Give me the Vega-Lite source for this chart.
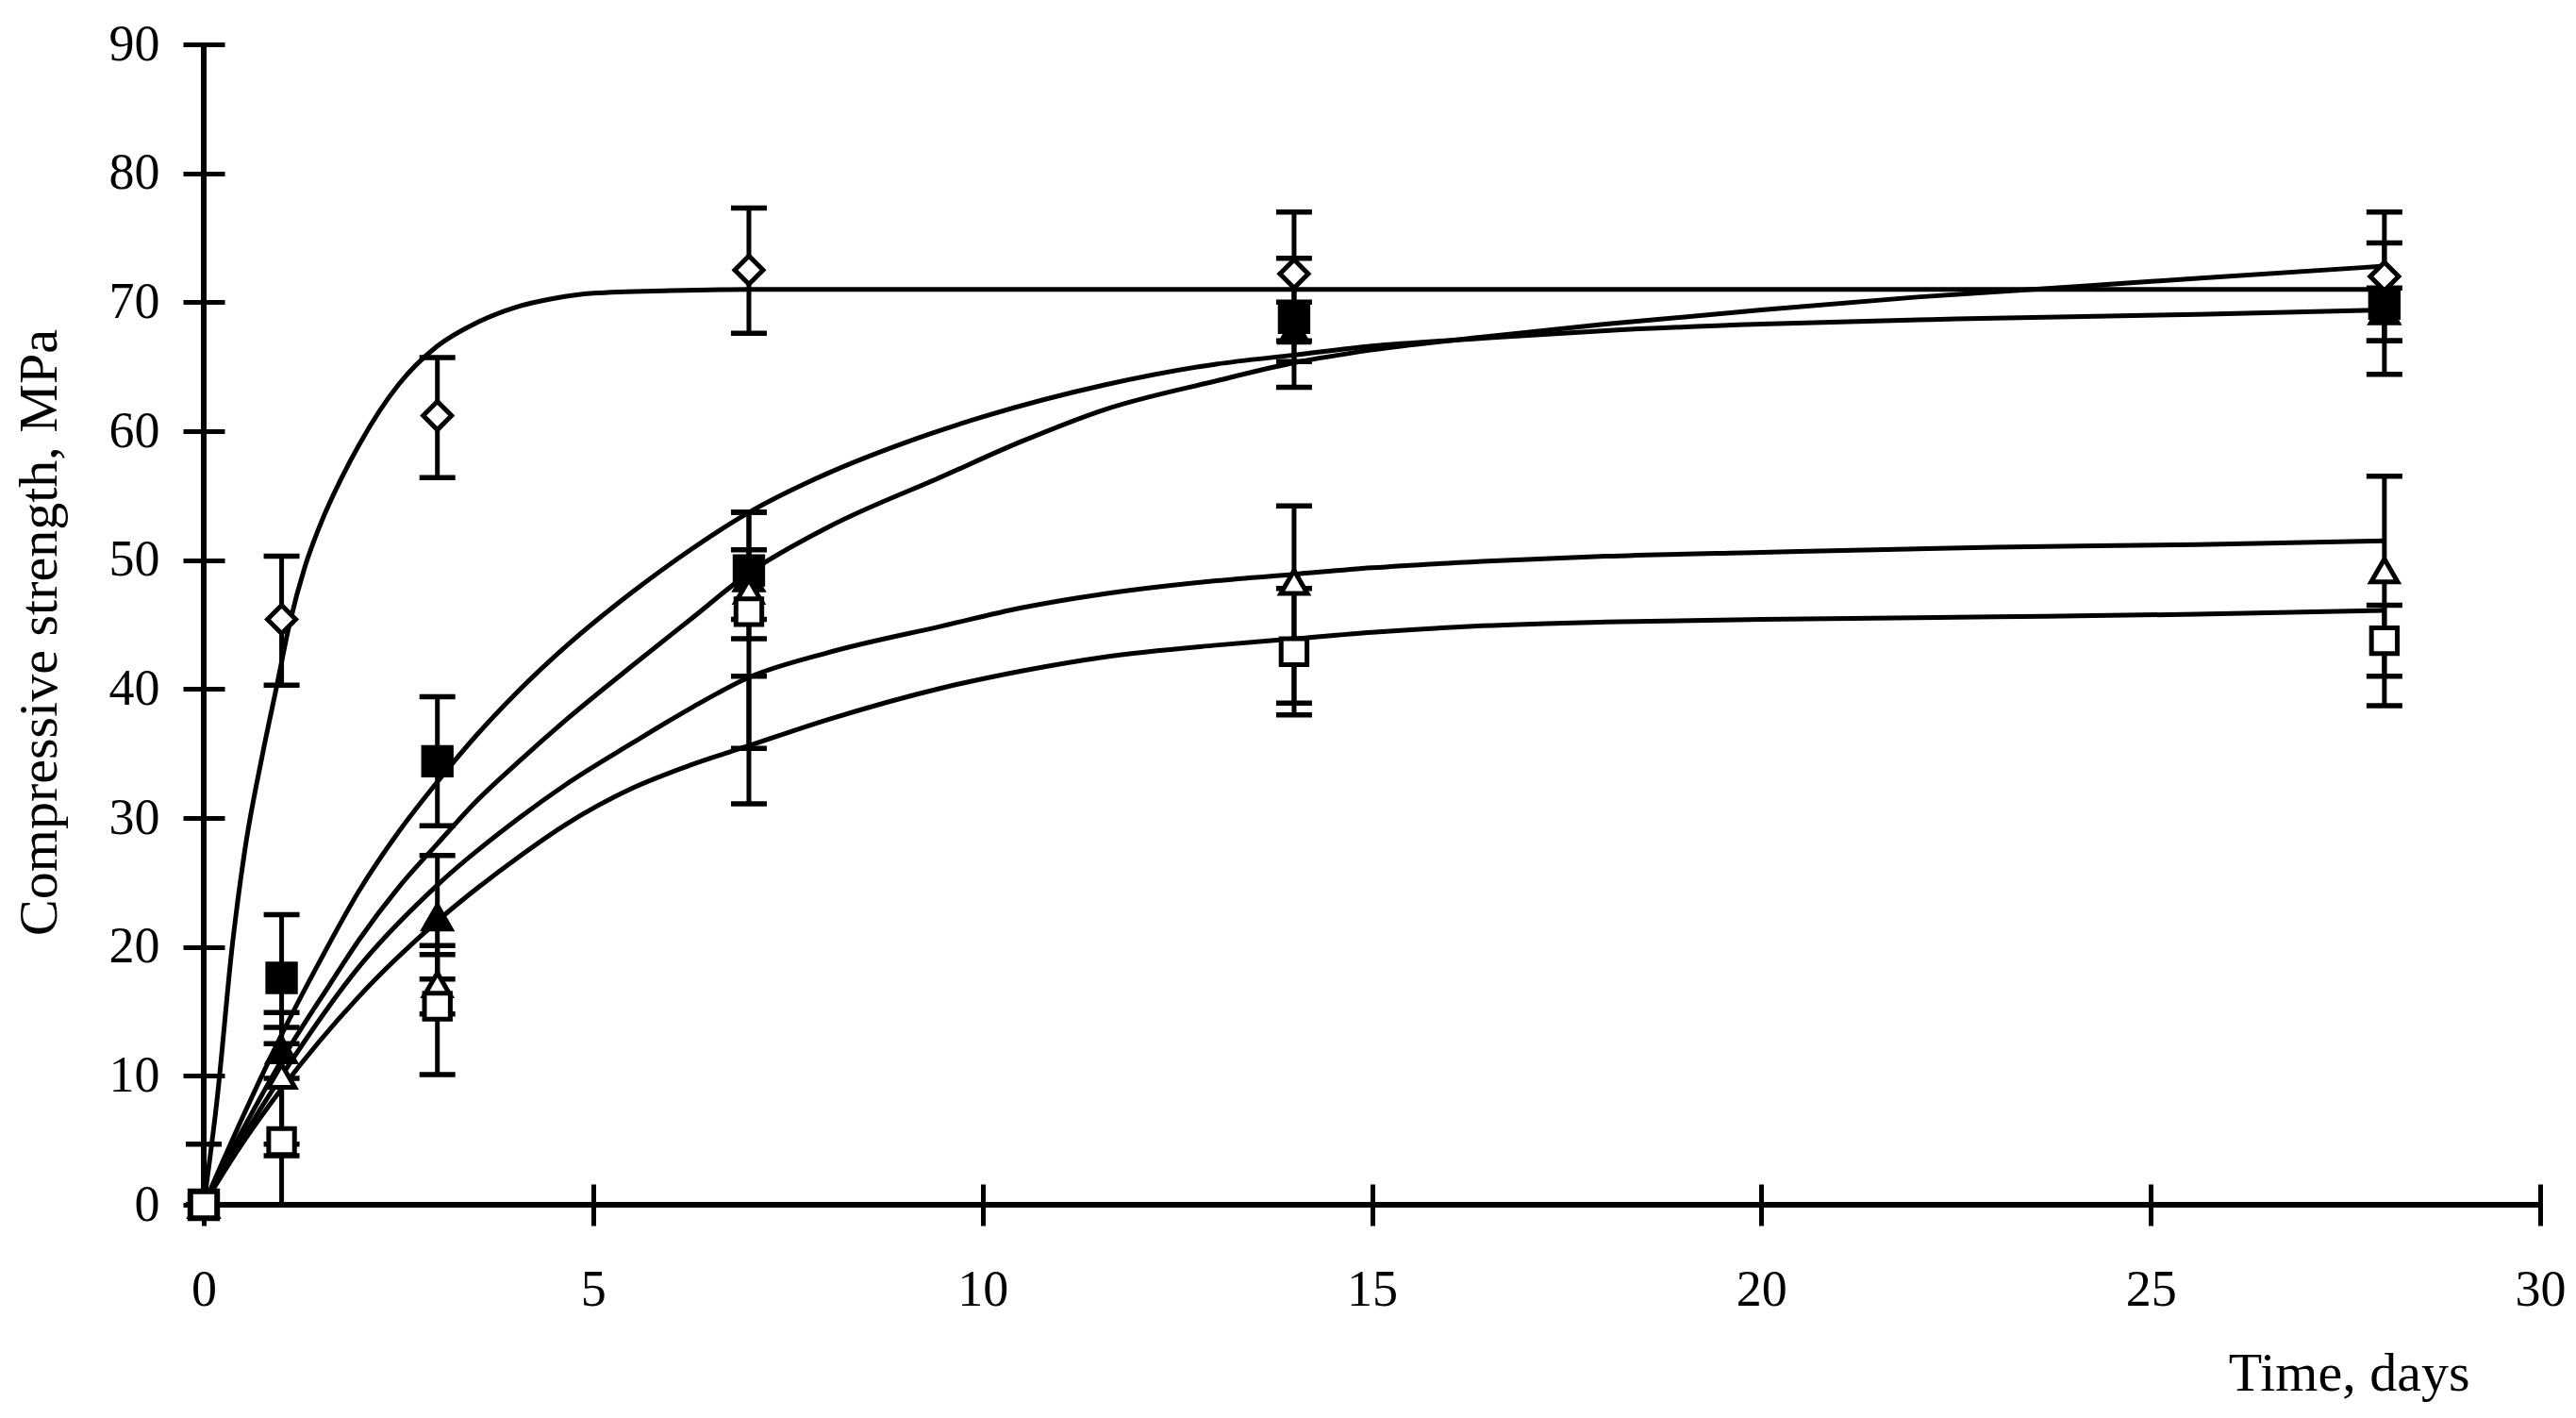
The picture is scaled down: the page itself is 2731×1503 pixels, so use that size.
{
  "$schema": "https://vega.github.io/schema/vega-lite/v6.json",
  "width": 2477,
  "height": 1230,
  "autosize": {"type": "none"},
  "padding": {"left": 216, "top": 47, "right": 38, "bottom": 226},
  "background": "white",
  "datasets": {
    "axisline": [{"origin": 0}],
    "points": [
      {"series": "S1", "t": 0, "v": 0, "low": 0, "high": 0},
      {"series": "S1", "t": 1, "v": 45.4, "low": 40.3, "high": 50.3},
      {"series": "S1", "t": 3, "v": 61.2, "low": 56.4, "high": 65.7},
      {"series": "S1", "t": 7, "v": 72.5, "low": 67.6, "high": 77.3},
      {"series": "S1", "t": 14, "v": 72.2, "low": 67.0, "high": 77.0},
      {"series": "S1", "t": 28, "v": 72.0, "low": 67.0, "high": 77.0},
      {"series": "S3", "t": 0, "v": 0, "low": 0, "high": 0},
      {"series": "S3", "t": 1, "v": 12.0, "low": 3.8, "high": 14.9},
      {"series": "S3", "t": 3, "v": 22.3, "low": 17.5, "high": 27.1},
      {"series": "S3", "t": 7, "v": 48.6, "low": 43.9, "high": 50.8},
      {"series": "S3", "t": 14, "v": 67.8, "low": 65.4, "high": 70.0},
      {"series": "S3", "t": 28, "v": 69.3, "low": 67.0, "high": 71.1},
      {"series": "S2", "t": 0, "v": 0, "low": 0, "high": 0},
      {"series": "S2", "t": 1, "v": 17.6, "low": 12.5, "high": 22.5},
      {"series": "S2", "t": 3, "v": 34.4, "low": 29.4, "high": 39.4},
      {"series": "S2", "t": 7, "v": 49.2, "low": 45.4, "high": 53.7},
      {"series": "S2", "t": 14, "v": 68.8, "low": 63.4, "high": 73.4},
      {"series": "S2", "t": 28, "v": 69.9, "low": 64.4, "high": 74.6},
      {"series": "S4", "t": 0, "v": 0, "low": 0, "high": 0},
      {"series": "S4", "t": 1, "v": 10.0, "low": 4.7, "high": 13.75},
      {"series": "S4", "t": 3, "v": 17.1, "low": 14.8, "high": 19.4},
      {"series": "S4", "t": 7, "v": 47.6, "low": 35.4, "high": 53.7},
      {"series": "S4", "t": 14, "v": 48.3, "low": 38.9, "high": 54.2},
      {"series": "S4", "t": 28, "v": 49.2, "low": 41.0, "high": 56.5},
      {"series": "S5", "t": 0, "v": 0, "low": 0, "high": 4.7},
      {"series": "S5", "t": 1, "v": 4.9, "low": 0, "high": 9.8},
      {"series": "S5", "t": 3, "v": 15.4, "low": 10.1, "high": 20.1},
      {"series": "S5", "t": 7, "v": 46.0, "low": 31.1, "high": 41.0},
      {"series": "S5", "t": 14, "v": 42.9, "low": 38.0, "high": 47.8},
      {"series": "S5", "t": 28, "v": 43.75, "low": 38.7, "high": 46.5}
    ],
    "curves": [
      {"series": "S1", "t": 0, "v": 0}, {"series": "S1", "t": 0.17, "v": 8.1}, {"series": "S1", "t": 0.37, "v": 20.3},
      {"series": "S1", "t": 0.53, "v": 27.6}, {"series": "S1", "t": 0.75, "v": 34.8}, {"series": "S1", "t": 0.94, "v": 40.3},
      {"series": "S1", "t": 1.1, "v": 45.0}, {"series": "S1", "t": 1.3, "v": 49.5}, {"series": "S1", "t": 1.5, "v": 52.8},
      {"series": "S1", "t": 1.78, "v": 56.5}, {"series": "S1", "t": 2, "v": 59.0}, {"series": "S1", "t": 2.5, "v": 63.6},
      {"series": "S1", "t": 3, "v": 66.6}, {"series": "S1", "t": 3.5, "v": 68.4}, {"series": "S1", "t": 4, "v": 69.6},
      {"series": "S1", "t": 4.5, "v": 70.3}, {"series": "S1", "t": 5, "v": 70.7}, {"series": "S1", "t": 6, "v": 70.9},
      {"series": "S1", "t": 7, "v": 71.0}, {"series": "S1", "t": 10, "v": 71.0}, {"series": "S1", "t": 14, "v": 71.0},
      {"series": "S1", "t": 20, "v": 71.0}, {"series": "S1", "t": 28, "v": 71.0},

      {"series": "S2", "t": 0, "v": 0}, {"series": "S2", "t": 0.5, "v": 6.8}, {"series": "S2", "t": 1, "v": 13.2},
      {"series": "S2", "t": 1.5, "v": 19.0}, {"series": "S2", "t": 2, "v": 24.4}, {"series": "S2", "t": 2.5, "v": 28.9},
      {"series": "S2", "t": 3, "v": 32.8}, {"series": "S2", "t": 3.5, "v": 36.4}, {"series": "S2", "t": 4, "v": 39.6},
      {"series": "S2", "t": 4.65, "v": 43.3}, {"series": "S2", "t": 5.5, "v": 47.5}, {"series": "S2", "t": 6.25, "v": 50.8},
      {"series": "S2", "t": 7, "v": 53.7}, {"series": "S2", "t": 8, "v": 56.7}, {"series": "S2", "t": 9, "v": 59.1},
      {"series": "S2", "t": 10, "v": 61.1}, {"series": "S2", "t": 11.58, "v": 63.6}, {"series": "S2", "t": 13, "v": 65.2},
      {"series": "S2", "t": 14, "v": 65.9}, {"series": "S2", "t": 15, "v": 66.6}, {"series": "S2", "t": 16.42, "v": 67.2},
      {"series": "S2", "t": 18, "v": 67.8}, {"series": "S2", "t": 20, "v": 68.3}, {"series": "S2", "t": 22.5, "v": 68.7},
      {"series": "S2", "t": 25.6, "v": 69.05}, {"series": "S2", "t": 28, "v": 69.4},

      {"series": "S3", "t": 0, "v": 0}, {"series": "S3", "t": 0.5, "v": 5.8}, {"series": "S3", "t": 1, "v": 11.2},
      {"series": "S3", "t": 1.62, "v": 17.1}, {"series": "S3", "t": 2, "v": 20.6}, {"series": "S3", "t": 2.5, "v": 24.6},
      {"series": "S3", "t": 3, "v": 28.0}, {"series": "S3", "t": 3.5, "v": 31.3}, {"series": "S3", "t": 4.05, "v": 34.4},
      {"series": "S3", "t": 4.65, "v": 37.6}, {"series": "S3", "t": 5.5, "v": 41.8}, {"series": "S3", "t": 6.25, "v": 45.4},
      {"series": "S3", "t": 7, "v": 49.0}, {"series": "S3", "t": 8, "v": 52.5}, {"series": "S3", "t": 9.49, "v": 56.5},
      {"series": "S3", "t": 10.5, "v": 59.2}, {"series": "S3", "t": 11.58, "v": 61.7}, {"series": "S3", "t": 13, "v": 63.9},
      {"series": "S3", "t": 14, "v": 65.3}, {"series": "S3", "t": 15, "v": 66.3}, {"series": "S3", "t": 16.42, "v": 67.3},
      {"series": "S3", "t": 18, "v": 68.3}, {"series": "S3", "t": 20, "v": 69.4}, {"series": "S3", "t": 22, "v": 70.4},
      {"series": "S3", "t": 24, "v": 71.2}, {"series": "S3", "t": 25.6, "v": 71.85}, {"series": "S3", "t": 28, "v": 72.8},

      {"series": "S4", "t": 0, "v": 0}, {"series": "S4", "t": 0.5, "v": 5.2}, {"series": "S4", "t": 1, "v": 10.0},
      {"series": "S4", "t": 2, "v": 18.5}, {"series": "S4", "t": 3, "v": 24.8}, {"series": "S4", "t": 4.05, "v": 30.0},
      {"series": "S4", "t": 4.65, "v": 32.6}, {"series": "S4", "t": 5.5, "v": 35.8}, {"series": "S4", "t": 6.25, "v": 38.5},
      {"series": "S4", "t": 7, "v": 40.9}, {"series": "S4", "t": 8, "v": 42.8}, {"series": "S4", "t": 9.49, "v": 44.9},
      {"series": "S4", "t": 10.5, "v": 46.3}, {"series": "S4", "t": 11.58, "v": 47.4}, {"series": "S4", "t": 13, "v": 48.4},
      {"series": "S4", "t": 14, "v": 48.9}, {"series": "S4", "t": 15, "v": 49.4}, {"series": "S4", "t": 16.42, "v": 49.9},
      {"series": "S4", "t": 18, "v": 50.3}, {"series": "S4", "t": 20, "v": 50.6}, {"series": "S4", "t": 23, "v": 51.0},
      {"series": "S4", "t": 25.6, "v": 51.2}, {"series": "S4", "t": 28, "v": 51.5},

      {"series": "S5", "t": 0, "v": 0}, {"series": "S5", "t": 0.5, "v": 4.8}, {"series": "S5", "t": 1, "v": 9.0},
      {"series": "S5", "t": 2, "v": 16.2}, {"series": "S5", "t": 3, "v": 22.0}, {"series": "S5", "t": 4.05, "v": 27.0},
      {"series": "S5", "t": 4.65, "v": 29.5}, {"series": "S5", "t": 5.5, "v": 32.3}, {"series": "S5", "t": 6.25, "v": 34.1},
      {"series": "S5", "t": 7, "v": 35.6}, {"series": "S5", "t": 8, "v": 37.6}, {"series": "S5", "t": 9.49, "v": 40.1},
      {"series": "S5", "t": 10.5, "v": 41.4}, {"series": "S5", "t": 11.58, "v": 42.5}, {"series": "S5", "t": 13, "v": 43.4},
      {"series": "S5", "t": 14, "v": 43.9}, {"series": "S5", "t": 15, "v": 44.4}, {"series": "S5", "t": 16.42, "v": 44.9},
      {"series": "S5", "t": 18, "v": 45.2}, {"series": "S5", "t": 20, "v": 45.4}, {"series": "S5", "t": 23, "v": 45.6},
      {"series": "S5", "t": 25.6, "v": 45.8}, {"series": "S5", "t": 28, "v": 46.1}
    ]
  },
  "layer": [
    {
      "data": {"name": "axisline"},
      "mark": {"type": "rule", "color": "black", "strokeWidth": 6},
      "encoding": {
        "x": {"field": "origin", "type": "quantitative", "scale": {"domain": [0, 30], "nice": false}, "title": "Time, days"}
      }
    },
    {
      "data": {"name": "axisline"},
      "mark": {"type": "rule", "color": "black", "strokeWidth": 6},
      "encoding": {
        "y": {"field": "origin", "type": "quantitative", "scale": {"domain": [0, 90], "nice": false}, "title": "Compressive strength, MPa"}
      }
    },
    {
      "data": {"name": "points"},
      "mark": {"type": "rule", "color": "black", "strokeWidth": 5},
      "encoding": {
        "x": {"field": "t", "type": "quantitative", "scale": {"domain": [0, 30], "nice": false}, "title": "Time, days"},
        "y": {"field": "low", "type": "quantitative", "scale": {"domain": [0, 90], "nice": false}, "title": "Compressive strength, MPa"},
        "y2": {"field": "high"}
      }
    },
    {
      "data": {"name": "points"},
      "mark": {"type": "tick", "orient": "horizontal", "color": "black", "size": 38, "thickness": 5.5, "opacity": 1},
      "encoding": {
        "x": {"field": "t", "type": "quantitative", "scale": {"domain": [0, 30], "nice": false}, "title": "Time, days"},
        "y": {"field": "low", "type": "quantitative", "scale": {"domain": [0, 90], "nice": false}, "title": "Compressive strength, MPa"}
      }
    },
    {
      "data": {"name": "points"},
      "mark": {"type": "tick", "orient": "horizontal", "color": "black", "size": 38, "thickness": 5.5, "opacity": 1},
      "encoding": {
        "x": {"field": "t", "type": "quantitative", "scale": {"domain": [0, 30], "nice": false}, "title": "Time, days"},
        "y": {"field": "high", "type": "quantitative", "scale": {"domain": [0, 90], "nice": false}, "title": "Compressive strength, MPa"}
      }
    },
    {
      "data": {"name": "curves"},
      "mark": {"type": "line", "color": "black", "strokeWidth": 5, "interpolate": "monotone"},
      "encoding": {
        "x": {"field": "t", "type": "quantitative", "scale": {"domain": [0, 30], "nice": false}, "title": "Time, days"},
        "y": {"field": "v", "type": "quantitative", "scale": {"domain": [0, 90], "nice": false}, "title": "Compressive strength, MPa"},
        "detail": {"field": "series", "type": "nominal"}
      }
    },
    {
      "data": {"name": "points"},
      "mark": {"type": "point", "filled": true, "stroke": "black", "strokeWidth": 5, "opacity": 1},
      "encoding": {
        "x": {"field": "t", "type": "quantitative", "scale": {"domain": [0, 30], "nice": false}, "title": "Time, days"},
        "y": {"field": "v", "type": "quantitative", "scale": {"domain": [0, 90], "nice": false}, "title": "Compressive strength, MPa"},
        "shape": {"field": "series", "type": "nominal", "legend": null,
          "scale": {"domain": ["S1", "S2", "S3", "S4", "S5"], "range": ["diamond", "square", "triangle-up", "triangle-up", "square"]}},
        "fill": {"field": "series", "type": "nominal", "legend": null,
          "scale": {"domain": ["S1", "S2", "S3", "S4", "S5"], "range": ["white", "black", "black", "white", "white"]}},
        "size": {"field": "series", "type": "nominal", "legend": null,
          "scale": {"domain": ["S1", "S2", "S3", "S4", "S5"], "range": [900, 750, 1100, 1100, 700]}}
      }
    }
  ],
  "config": {
    "view": {"stroke": null},
    "axis": {
      "grid": false,
      "domain": false,
      "ticks": true,
      "tickColor": "black",
      "tickWidth": 5,
      "tickSize": 44,
      "offset": -22,
      "labelFont": "Liberation Serif",
      "labelFontSize": 54,
      "labelColor": "black",
      "labelFlush": false,
      "labelOverlap": false,
      "titleFont": "Liberation Serif",
      "titleFontSize": 58,
      "titleFontWeight": "normal",
      "titleColor": "black",
      "titleBaseline": "alphabetic"
    },
    "axisX": {"tickCount": 6, "labelPadding": 41, "titleX": 2402, "titleY": 218, "titleAlign": "right"},
    "axisY": {"tickCount": 9, "labelPadding": 25, "titleX": -179, "titleY": 623, "titleAlign": "center", "titleAngle": -90}
  }
}
